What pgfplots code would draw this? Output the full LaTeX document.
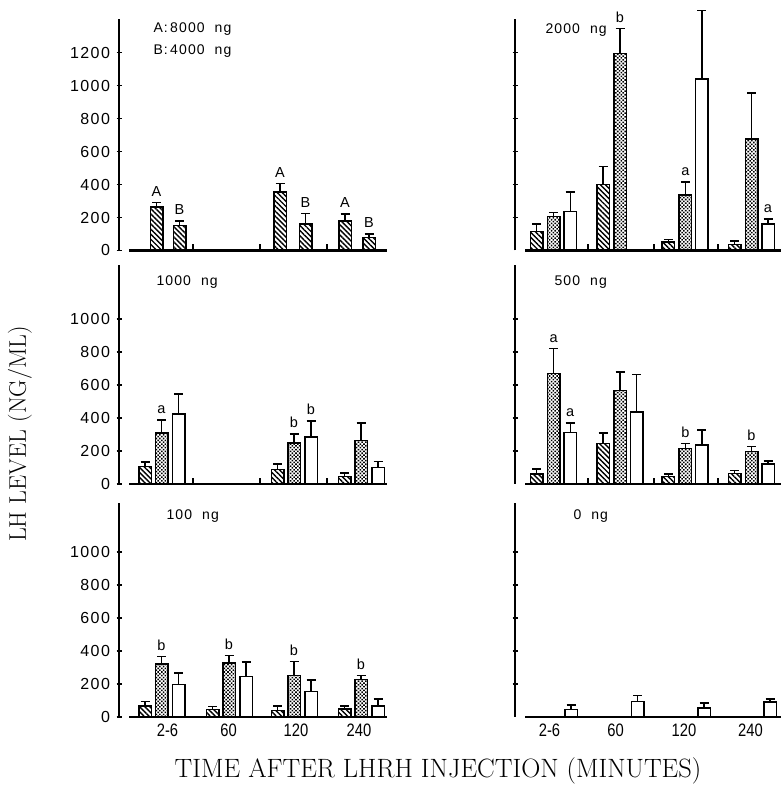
\documentclass[border=0pt]{standalone}
\usepackage{fontspec}
\usepackage{pgfplots}
\pgfplotsset{compat=1.18}
\usetikzlibrary{patterns.meta}
\newfontfamily\tickfam[LetterSpace=9]{Liberation Sans}
\newfontfamily\ttlfam[LetterSpace=8]{Liberation Sans}
\newfontfamily\xlfam{Liberation Sans}
\newcommand\ticklab{\tickfam\fontsize{16}{18}\selectfont}
\newcommand\ttlfont{\ttlfam\fontsize{14}{16}\selectfont}
\newcommand\lblfont{\xlfam\fontsize{14.5}{16}\selectfont}
\newcommand\xtlfont{\xlfam\fontsize{18}{20}\selectfont}
\newcommand\xlabfont{\fontsize{26.5}{30}\selectfont\addfontfeature{LetterSpace=5}}
\newcommand\ylabfont{\fontsize{24}{28}\selectfont\addfontfeature{LetterSpace=5}}
\pgfplotsset{
  panel/.style={scale only axis, width=270pt, xmin=0, xmax=270, ymin=0, clip=false,
    axis lines=left, axis line style={-}, x axis line style={draw=none},
    y axis line style={line width=2.8pt,-},
    major tick length=5pt, tick align=center, xtick=\empty,
    every tick/.style={black, line width=1.2pt},
    yticklabel style={font=\ticklab, xshift=-3pt},
    extra x tick style={tick align=inside, major tick length=6pt, line width=1.4pt, xticklabel=\empty},
  },
  leftp/.style={extra x ticks={74,141,208}},
  rightp/.style={extra x ticks={73,139,203}, yticklabels={}},
  botl/.style={xtick={48.5,109.5,177,240}, xticklabels={2-6,60,120,240}, major x tick style={draw=none},
    xticklabel style={font=\xtlfont, xscale=0.82, yshift=-1pt}},
  botr/.style={xtick={34.5,100.5,169,235.5}, xticklabels={2-6,60,120,240}, major x tick style={draw=none},
    xticklabel style={font=\xtlfont, xscale=0.82, yshift=-1pt}},
  barbase/.style={ybar, bar width=12.5, bar shift=0pt, draw=black, line width=1.5pt,
    error bars/y dir=plus, error bars/y explicit,
    error bars/error bar style={line width=1.4pt, black},
    error bars/error mark options={line width=1.6pt, mark size=4.5pt, black, rotate=90}},
  hb/.style={barbase, pattern={Lines[angle=-45,distance=3.6pt,line width=1.4pt]}},
  db/.style={barbase, pattern={Dots[angle=45,distance=2.6pt,radius=1.1pt]}},
  ob/.style={barbase, fill=white},
  lab/.style={draw=none, nodes near coords, point meta=explicit symbolic,
    nodes near coords style={anchor=south, font=\lblfont, inner sep=1pt, yshift=5pt}},
}
\begin{document}
\begin{tikzpicture}
\useasboundingbox (0pt,0pt) rectangle (783pt,786pt);
% ---------------- top left
\begin{axis}[panel, leftp, at={(119pt,535.5pt)}, anchor=south west, ymax=1405, height=231.8pt,
  ytick={0,200,400,600,800,1000,1200}, yticklabels={0,200,400,600,800,1000,1200}]
\addplot[hb] coordinates {(37.5,265) +- (0,25) (161,355) +- (0,50) (226,180) +- (0,40)};
\addplot[hb] coordinates {(60.5,150) +- (0,30) (186.5,160) +- (0,65) (250,80) +- (0,20)};
\addplot[lab] coordinates {(37.5,290) [A] (161,405) [A] (226,220) [A] (60.5,180) [B] (186.5,225) [B] (250,100) [B]};
\draw[line width=2.4pt] (axis cs:10,0) -- (axis cs:268,0);
\node[anchor=west, font=\ttlfont] at (axis cs:31,1342) {A:\,8000~~ng};
\node[anchor=west, font=\ttlfont] at (axis cs:31,1209) {B:\,4000~~ng};
\end{axis}
% ---------------- top right
\begin{axis}[panel, rightp, at={(515pt,535.5pt)}, anchor=south west, ymax=1405, height=231.8pt,
  ytick={200,400,600,800,1000,1200}]
\addplot[hb] coordinates {(21.7,115) +- (0,45) (88,400) +- (0,110) (153.3,50) +- (0,17) (219.5,37) +- (0,22)};
\addplot[db] coordinates {(38.7,205) +- (0,25) (105,1195) +- (0,150) (170.3,335) +- (0,80) (236.5,675) +- (0,280)};
\addplot[ob] coordinates {(55.2,235) +- (0,120) (186.8,1040) +- (0,415) (253,160) +- (0,32)};
\addplot[lab] coordinates {(105,1345) [b] (170.3,415) [a] (253,192) [a]};
\draw[line width=2.4pt] (axis cs:10,0) -- (axis cs:266,0);
\node[anchor=west, font=\ttlfont] at (axis cs:27,1336) {2000~~ng};
\end{axis}
% ---------------- middle left
\begin{axis}[panel, leftp, at={(119pt,302pt)}, anchor=south west, ymax=1327, height=219pt,
  ytick={0,200,400,600,800,1000}, yticklabels={0,200,400,600,800,1000}]
\addplot[hb] coordinates {(26,105) +- (0,28) (158.5,88) +- (0,32) (225.5,44) +- (0,24)};
\addplot[db] coordinates {(42.5,310) +- (0,78) (175,248) +- (0,56) (242,264) +- (0,104)};
\addplot[ob] coordinates {(59.5,425) +- (0,120) (192,284) +- (0,96) (259,100) +- (0,36)};
\addplot[lab] coordinates {(42.5,388) [a] (175,304) [b] (192,380) [b]};
\draw[line width=2.4pt] (axis cs:10,0) -- (axis cs:268,0);
\node[anchor=west, font=\ttlfont] at (axis cs:34,1224) {1000~~ng};
\end{axis}
% ---------------- middle right
\begin{axis}[panel, rightp, at={(515pt,302pt)}, anchor=south west, ymax=1327, height=219pt,
  ytick={200,400,600,800,1000}]
\addplot[hb] coordinates {(21.7,62) +- (0,30) (88,245) +- (0,65) (153.3,45) +- (0,17) (219.5,65) +- (0,17)};
\addplot[db] coordinates {(38.7,670) +- (0,150) (105,565) +- (0,112) (170.3,215) +- (0,30) (236.5,198) +- (0,30)};
\addplot[ob] coordinates {(55.2,312) +- (0,58) (121.5,435) +- (0,228) (186.8,235) +- (0,92) (253,122) +- (0,18)};
\addplot[lab] coordinates {(38.7,820) [a] (55.2,370) [a] (170.3,245) [b] (236.5,228) [b]};
\draw[line width=2.4pt] (axis cs:10,0) -- (axis cs:266,0);
\node[anchor=west, font=\ttlfont] at (axis cs:36,1224) {500~~ng};
\end{axis}
% ---------------- bottom left
\begin{axis}[panel, leftp, botl, at={(119pt,69pt)}, anchor=south west, ymax=1297, height=214pt,
  ytick={0,200,400,600,800,1000}, yticklabels={0,200,400,600,800,1000}]
\addplot[hb] coordinates {(26,68) +- (0,27) (93.5,44) +- (0,20) (158.5,38) +- (0,27) (225.5,48) +- (0,20)};
\addplot[db] coordinates {(42.5,322) +- (0,45) (110,326) +- (0,46) (175,250) +- (0,87) (242,226) +- (0,26)};
\addplot[ob] coordinates {(59.5,196) +- (0,70) (127,245) +- (0,90) (192,155) +- (0,70) (259,68) +- (0,40)};
\addplot[lab] coordinates {(42.5,367) [b] (110,372) [b] (175,337) [b] (242,252) [b]};
\draw[line width=2.4pt] (axis cs:10,0) -- (axis cs:268,0);
\node[anchor=west, font=\ttlfont] at (axis cs:44,1218) {100~~ng};
\end{axis}
% ---------------- bottom right
\begin{axis}[panel, rightp, botr, at={(515pt,69pt)}, anchor=south west, ymax=1297, height=214pt,
  ytick={200,400,600,800,1000}]
\addplot[ob] coordinates {(56,44) +- (0,30) (122.5,94) +- (0,36) (189,54) +- (0,30) (255,90) +- (0,20)};
\draw[line width=2.4pt] (axis cs:10,0) -- (axis cs:266,0);
\node[anchor=west, font=\ttlfont] at (axis cs:55,1218) {0~~ng};
\end{axis}
\node[rotate=90, font=\ylabfont] at (20pt,352pt) {LH LEVEL (NG/ML)};
\node[font=\xlabfont] at (438pt,15pt) {TIME AFTER LHRH INJECTION (MINUTES)};
\end{tikzpicture}
\end{document}
